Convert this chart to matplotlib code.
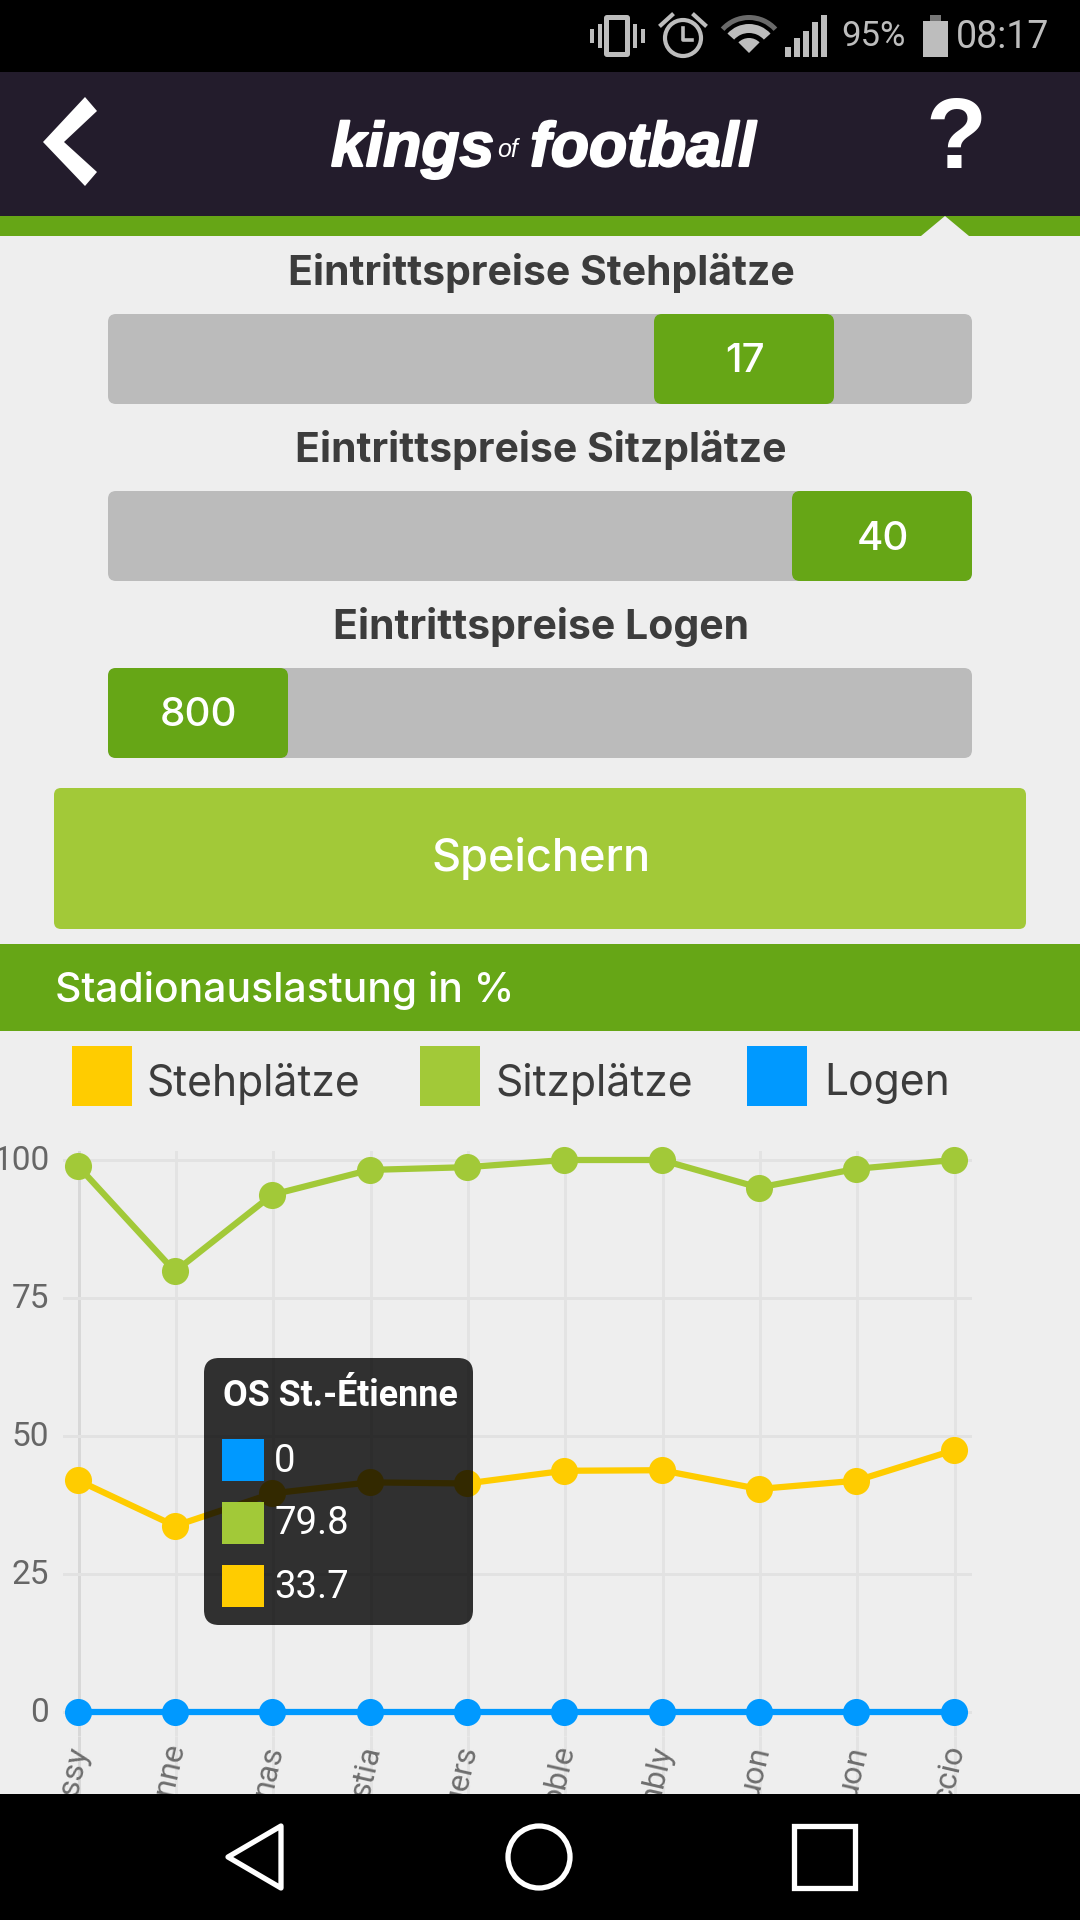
import matplotlib
matplotlib.use("Agg")
import matplotlib.pyplot as plt
import matplotlib.patheffects as pe
from matplotlib.transforms import ScaledTranslation
from matplotlib.patches import Rectangle, FancyBboxPatch, Polygon, Circle, Wedge

# ====================== DATA ======================
TEAMS = ["issy", "OS St.-Étienne", "nas", "stia", "gers", "oble", "mbly", "uon", "uon", "ccio"]
STEH = [42, 33.7, 39.6, 41.6, 41.4, 43.7, 43.8, 40.4, 41.9, 47.4]
SITZ = [99, 79.8, 93.7, 98.2, 98.7, 100, 100, 95, 98.4, 100]
LOGEN = [0, 0, 0, 0, 0, 0, 0, 0, 0, 0]
Y_TICKS = [0, 25, 50, 75, 100]
LEGEND = ["Stehplätze", "Sitzplätze", "Logen"]
PRICE_TITLES = ["Eintrittspreise Stehplätze", "Eintrittspreise Sitzplätze", "Eintrittspreise Logen"]
PRICES = ["17", "40", "800"]
TOOLTIP_IDX = 1
# ==================================================

YELLOW = "#ffcc00"
LIME = "#a2c938"
BLUE = "#0099ff"
GREEN = "#66a616"
DARK = "#231c2c"
BG = "#eeeeee"
GREY = "#bbbbbb"
UI_FONT = ["Inter", "DejaVu Sans"]
CHART_FONT = ["Roboto", "DejaVu Sans"]
W, H = 1080, 1920
DPI = 100

fig = plt.figure(figsize=(W / DPI, H / DPI), dpi=DPI, facecolor=BG)


def px_rect(x0, y0, x1, y1):
    return [x0 / W, 1 - y1 / H, (x1 - x0) / W, (y1 - y0) / H]


# chart first, the app screen goes over it
ax = fig.add_axes(px_rect(63, 1151, 972, 1736), facecolor="none")
ax.set_xlim(-0.15, 9.19)
ax.set_ylim(-4.35, 101.63)
for s in ax.spines.values():
    s.set_visible(False)
ax.set_yticks(Y_TICKS)
ax.set_xticks(range(len(TEAMS)))
ax.set_xticklabels(TEAMS, rotation=77, ha="right", va="center", rotation_mode="anchor",
                   fontsize=23, color="#6e6e6e", family=CHART_FONT)
ax.tick_params(axis="x", length=0, pad=7)
ax.tick_params(axis="y", length=0, pad=10, labelsize=24, labelcolor="#666666")
nudge_x = ScaledTranslation(2 / DPI, 0, fig.dpi_scale_trans)
nudge_y = ScaledTranslation(0, 2 / DPI, fig.dpi_scale_trans)
for lab in ax.get_xticklabels():
    lab.set_transform(lab.get_transform() + nudge_x)
for lab in ax.get_yticklabels():
    lab.set_family(CHART_FONT)
    lab.set_clip_on(False)
    lab.set_transform(lab.get_transform() + nudge_y)
ax.grid(axis="y", color="#e2e2e2", lw=3.0 * 72 / DPI)
for i in range(len(TEAMS)):
    # vertical grid runs on under the nav bar, past the axes box
    ax.axvline(i + 0.012, ymin=0, ymax=1, color="#d8d8d8" if i == 0 else "#e3e3e3",
               lw=3.0 * 72 / DPI, zorder=0.5)
    ax.plot([i + 0.012, i + 0.012], [-4.35, -15], color="#d8d8d8" if i == 0 else "#e3e3e3",
            lw=3.0 * 72 / DPI, zorder=0.5, clip_on=False, solid_capstyle="butt", scaley=False)
ax.set_ylim(-4.35, 101.63)
ax.set_axisbelow(True)

for vals, col in [(LOGEN, BLUE), (SITZ, LIME), (STEH, YELLOW)]:
    ax.plot(range(len(vals)), vals, color=col, lw=4.5, marker="o", ms=19.5, mew=0,
            clip_on=False, zorder=3)

# screen overlay in pixel coordinates
ov = fig.add_axes([0, 0, 1, 1], facecolor="none")
ov.set_xlim(0, W)
ov.set_ylim(H, 0)
ov.axis("off")


def box(x0, y0, x1, y1, color, r=0, **kw):
    if r:
        p = FancyBboxPatch((x0 + r, y0 + r), x1 - x0 - 2 * r, y1 - y0 - 2 * r,
                           boxstyle=f"round,pad={r},rounding_size={r}", fc=color, ec="none", **kw)
    else:
        p = Rectangle((x0, y0), x1 - x0, y1 - y0, fc=color, ec="none", **kw)
    ov.add_patch(p)


# status bar and header
box(0, 0, W, 72, "#000000")
box(0, 72, W, 216, DARK)
box(0, 216, W, 236, GREEN)
ov.add_patch(Polygon([(921, 236), (945, 216), (969, 236)], fc=BG, ec="none"))

ICON = "#bdbdbd"
box(604, 15, 630, 57, ICON, r=3)
box(609, 20, 625, 52, "#000000")
for x, y0, y1 in [(600, 24, 48), (592, 29, 43), (635, 24, 48), (643, 29, 43)]:
    box(x - 2, y0, x + 2, y1, ICON)
ov.add_patch(Circle((683, 38), 18, fc="none", ec=ICON, lw=3))
ov.plot([683, 683, 692], [28, 40, 40], color=ICON, lw=2.6)
ov.plot([661, 672], [25, 15], color=ICON, lw=3)
ov.plot([694, 705], [15, 25], color=ICON, lw=3)
ov.add_patch(Wedge((749, 53), 38, 222, 318, width=5, fc="#6a6a6a", ec="none"))
ov.add_patch(Wedge((749, 53), 29, 222, 318, width=9, fc=ICON, ec="none"))
ov.add_patch(Wedge((749, 53), 15, 225, 315, fc=ICON, ec="none"))
for i, top in enumerate([47, 38, 31, 22, 15]):
    box(785 + i * 9, top, 791 + i * 9, 57, ICON)
ov.text(873, 37, "95%", color=ICON, fontsize=25, ha="center", va="center", family=CHART_FONT)
box(923, 21, 948, 57, ICON)
box(930, 15, 941, 21, "#777777")
ov.text(1003, 37, "08:17", color=ICON, fontsize=27, ha="center", va="center", family=CHART_FONT)

ov.add_patch(Polygon([(85, 97), (97, 111), (64, 142), (97, 172), (85, 186), (43, 142)], fc="white", ec="none"))
LOGO = ["Liberation Sans", "DejaVu Sans"]
thick = [pe.withStroke(linewidth=1.5, foreground="white")]
ov.text(331, 166, "kings", color="white", fontsize=45, weight="bold", style="italic", family=LOGO, path_effects=thick)
ov.text(497, 157, "of", color="white", fontsize=18, style="italic", family=LOGO)
ov.text(530, 166, "football", color="white", fontsize=45, weight="bold", style="italic", family=LOGO, path_effects=thick)
ov.text(956, 142, "?", color="white", fontsize=72, weight="bold", ha="center", va="center", family=LOGO)

# price sliders
rows = [(273, 314, 654), (450, 491, 792), (627, 668, 108)]
for (ty, y0, thumb), title, price in zip(rows, PRICE_TITLES, PRICES):
    ov.text(541, ty, title, color="#3c3c3c", fontsize=29.5, weight="bold", ha="center", va="center", family=UI_FONT)
    box(108, y0, 972, y0 + 90, GREY, r=8)
    box(thumb, y0, thumb + 180, y0 + 90, GREEN, r=8)
    ov.text(thumb + 91, y0 + 48, price, color="white", fontsize=29, weight=500, ha="center", va="center", family=UI_FONT)

box(54, 788, 1026, 929, LIME, r=7)
ov.text(541, 858, "Speichern", color="white", fontsize=32.5, weight=500, ha="center", va="center", family=UI_FONT)

box(0, 944, W, 1031, GREEN)
ov.text(55, 991, "Stadionauslastung in %", color="white", fontsize=29.4, weight=500, ha="left", va="center", family=UI_FONT)

# legend
for x, col, label, tx in zip([72, 420, 747], [YELLOW, LIME, BLUE], LEGEND, [146, 495, 824]):
    box(x, 1046, x + 60, 1106, col)
    ov.text(tx, 1084, label, color="#3c3c3c", fontsize=30.7, ha="left", va="center", family=UI_FONT)

# tooltip
box(204, 1358, 473, 1625, "#000000", r=15, alpha=0.8)
ov.text(223, 1396, TEAMS[TOOLTIP_IDX], color="white", fontsize=25.8, weight="bold", ha="left", va="center", family=CHART_FONT)
tip_rows = [(1439, BLUE, LOGEN), (1502, LIME, SITZ), (1565, YELLOW, STEH)]
for y, col, vals in tip_rows:
    box(222, y, 264, y + 42, col)
    ov.text(274, y + 22, f"{vals[TOOLTIP_IDX]:g}", color="white", fontsize=27.5, ha="left", va="center", family=CHART_FONT)

# nav bar
box(0, 1794, W, H, "#000000")
ov.add_patch(Polygon([(281, 1826), (281, 1888), (228, 1857)], fc="none", ec="white", lw=3.8, joinstyle="round"))
ov.add_patch(Circle((539, 1857), 31, fc="none", ec="white", lw=3.8))
ov.add_patch(Rectangle((794, 1826), 61, 62, fc="none", ec="white", lw=3.8))

fig.savefig("out.png", dpi=DPI, facecolor=BG)
